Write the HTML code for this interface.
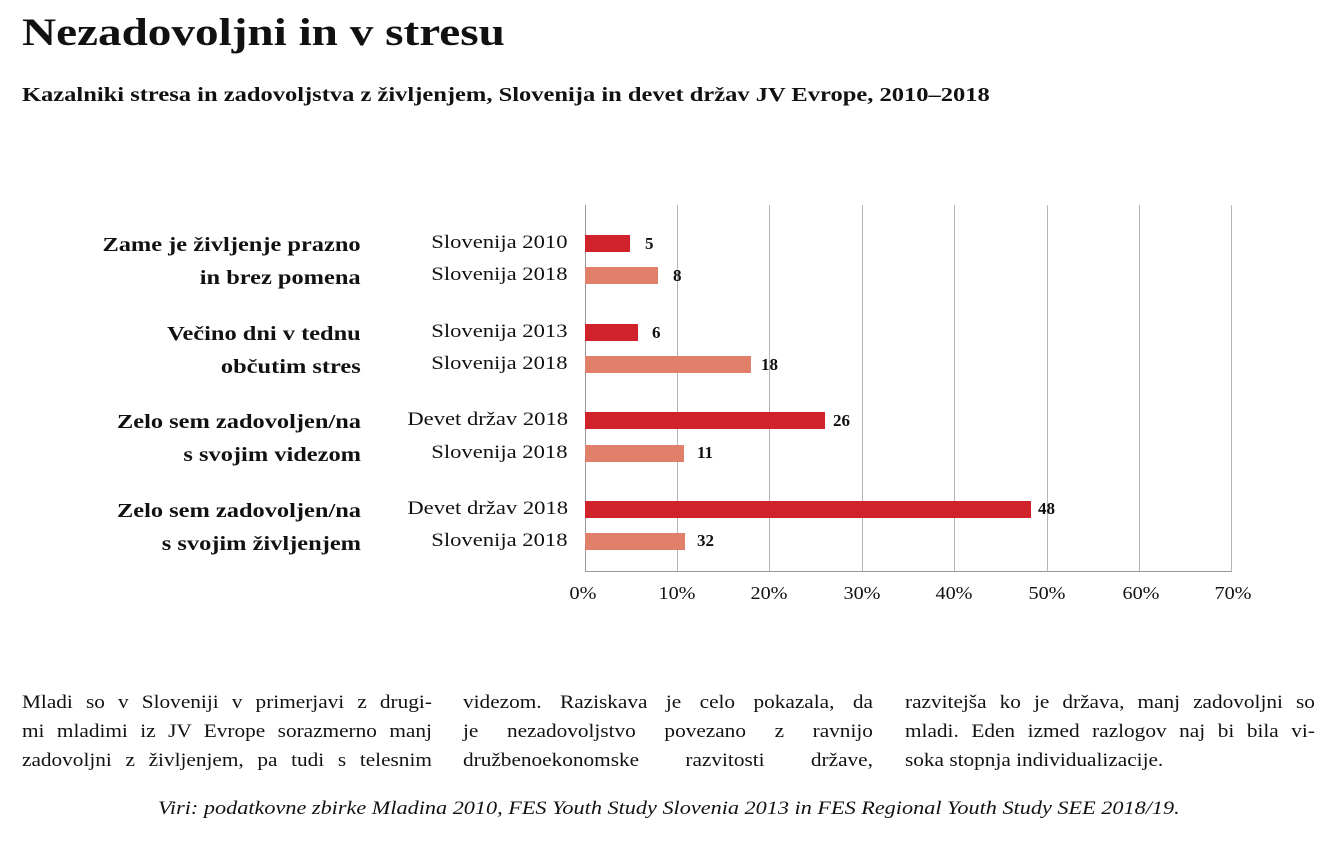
<!DOCTYPE html>
<html><head><meta charset="utf-8"><style>
body{margin:0;width:1340px;height:852px;background:#fff;font-family:"Liberation Serif",serif;color:#111;position:relative;overflow:hidden}
.a{position:absolute;white-space:nowrap}
h1{position:absolute;left:22px;top:10px;margin:0;font-size:39px;font-weight:bold;transform:scaleX(1.21);transform-origin:left}
.sub{left:22px;top:84px;font-size:20px;font-weight:bold;transform:scaleX(1.225);transform-origin:left}
.cat{right:979px;font-size:20px;font-weight:bold;text-align:right;line-height:33px;transform:scaleX(1.22);transform-origin:right}
.lab{right:772px;font-size:19px;transform:scaleX(1.19);transform-origin:right}
.bar{position:absolute;height:17px}
.d{background:#d0222b}.l{background:#e0806a}
.v{font-size:17px;font-weight:bold}
.g{position:absolute;top:205px;height:366px;width:1px;background:#b5b5b5}
.t{font-size:18px;top:583px;transform:translateX(-50%) scaleX(1.12)}
.p{font-size:19px;line-height:29px;top:688px;width:366px;transform:scaleX(1.12);transform-origin:left}
.p div{text-align:justify;text-align-last:justify;white-space:nowrap;height:29px}
.p div.e{text-align-last:left}
</style></head><body>
<h1>Nezadovoljni in v stresu</h1>
<div class="a sub">Kazalniki stresa in zadovoljstva z življenjem, Slovenija in devet držav JV Evrope, 2010–2018</div>

<div class="g" style="left:585px;background:#999"></div>
<div class="g" style="left:677px"></div><div class="g" style="left:769px"></div><div class="g" style="left:862px"></div><div class="g" style="left:954px"></div><div class="g" style="left:1047px"></div><div class="g" style="left:1139px"></div><div class="g" style="left:1231px"></div>
<div style="position:absolute;left:585px;top:571px;width:647px;height:1px;background:#999"></div>

<div class="a cat" style="top:229px">Zame je življenje prazno<br>in brez pomena</div>
<div class="a cat" style="top:318px">Večino dni v tednu<br>občutim stres</div>
<div class="a cat" style="top:406px">Zelo sem zadovoljen/na<br>s svojim videzom</div>
<div class="a cat" style="top:495px">Zelo sem zadovoljen/na<br>s svojim življenjem</div>

<div class="a lab" style="top:232px">Slovenija 2010</div>
<div class="a lab" style="top:264px">Slovenija 2018</div>
<div class="a lab" style="top:321px">Slovenija 2013</div>
<div class="a lab" style="top:353px">Slovenija 2018</div>
<div class="a lab" style="top:409px">Devet držav 2018</div>
<div class="a lab" style="top:442px">Slovenija 2018</div>
<div class="a lab" style="top:498px">Devet držav 2018</div>
<div class="a lab" style="top:530px">Slovenija 2018</div>

<div class="bar d" style="left:585px;top:235px;width:45px"></div>
<div class="bar l" style="left:585px;top:267px;width:73px"></div>
<div class="bar d" style="left:585px;top:324px;width:53px"></div>
<div class="bar l" style="left:585px;top:356px;width:166px"></div>
<div class="bar d" style="left:585px;top:412px;width:240px"></div>
<div class="bar l" style="left:585px;top:445px;width:99px"></div>
<div class="bar d" style="left:585px;top:501px;width:446px"></div>
<div class="bar l" style="left:585px;top:533px;width:100px"></div>

<div class="a v" style="left:645px;top:234px">5</div>
<div class="a v" style="left:673px;top:266px">8</div>
<div class="a v" style="left:652px;top:323px">6</div>
<div class="a v" style="left:761px;top:355px">18</div>
<div class="a v" style="left:833px;top:411px">26</div>
<div class="a v" style="left:697px;top:443px">11</div>
<div class="a v" style="left:1038px;top:499px">48</div>
<div class="a v" style="left:697px;top:531px">32</div>

<div class="a t" style="left:583px">0%</div><div class="a t" style="left:677px">10%</div><div class="a t" style="left:769px">20%</div><div class="a t" style="left:862px">30%</div><div class="a t" style="left:954px">40%</div><div class="a t" style="left:1047px">50%</div><div class="a t" style="left:1141px">60%</div><div class="a t" style="left:1233px">70%</div>

<div class="a p" style="left:22px"><div>Mladi so v Sloveniji v primerjavi z drugi-</div><div>mi mladimi iz JV Evrope sorazmerno manj</div><div>zadovoljni z življenjem, pa tudi s telesnim</div></div>
<div class="a p" style="left:463px"><div>videzom. Raziskava je celo pokazala, da</div><div>je nezadovoljstvo povezano z ravnijo</div><div>družbenoekonomske razvitosti države,</div></div>
<div class="a p" style="left:905px"><div>razvitejša ko je država, manj zadovoljni so</div><div>mladi. Eden izmed razlogov naj bi bila vi-</div><div class="e">soka stopnja individualizacije.</div></div>
<div class="a" style="left:158px;top:798px;font-size:19px;font-style:italic;transform:scaleX(1.17);transform-origin:left">Viri: podatkovne zbirke Mladina 2010, FES Youth Study Slovenia 2013 in FES Regional Youth Study SEE 2018/19.</div>
</body></html>
